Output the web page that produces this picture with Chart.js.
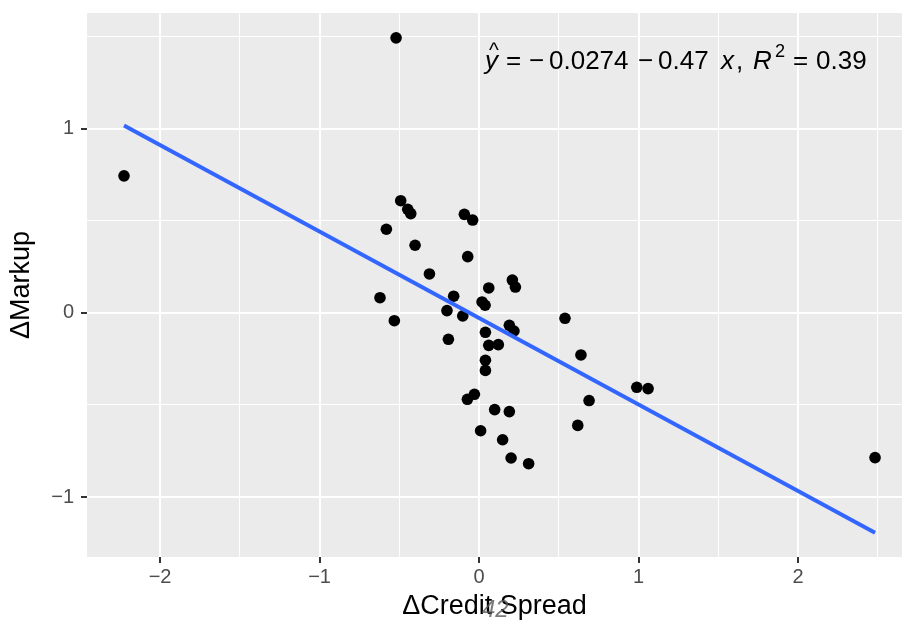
<!DOCTYPE html>
<html>
<head>
<meta charset="utf-8">
<script src="https://cdn.jsdelivr.net/npm/chart.js@4.4.1/dist/chart.umd.min.js"></script>
<style>
  html, body { margin: 0; padding: 0; background: #fff; }
</style>
</head>
<body>
<canvas id="chart" width="902" height="623"></canvas>
<script>
// data
const creditSpread = [-2.226, -0.52, -0.491, -0.447, -0.428, -0.581, -0.092, -0.040, -0.401, -0.071,
  -0.311, -0.621, -0.159, 0.061, 0.209, 0.228, 0.019, 0.038, -0.201, -0.102,
  -0.531, 0.190, 0.219, 0.040, -0.192, 0.061, 0.121, 0.040, 0.040, -0.029,
  -0.073, 0.098, 0.190, 0.010, 0.148, 0.201, 0.311, 0.539, 0.639, 0.989,
  1.060, 0.690, 0.619, 2.483];
const markup = [0.745, 1.495, 0.610, 0.563, 0.540, 0.455, 0.536, 0.505, 0.368, 0.306,
  0.212, 0.083, 0.091, 0.136, 0.179, 0.141, 0.060, 0.042, 0.013, -0.016,
  -0.042, -0.067, -0.098, -0.105, -0.143, -0.176, -0.172, -0.257, -0.312, -0.442,
  -0.469, -0.525, -0.536, -0.640, -0.689, -0.788, -0.819, -0.029, -0.228, -0.404,
  -0.411, -0.476, -0.611, -0.786];

// fit from the label
const intercept = -0.0274;
const slope = -0.47;
const rSquared = 0.39;

const xGridValues = [-2, -1.5, -1, -0.5, 0, 0.5, 1, 1.5, 2, 2.5];
const yGridValues = [-1, -0.5, 0, 0.5, 1, 1.5];

const FONT = "'Liberation Sans', Arial, Helvetica, sans-serif";
const fmt = v => (v < 0 ? '\u2212' + Math.abs(v) : String(v));
const isMajor = v => Number.isInteger(v);

const points = creditSpread.map((x, i) => ({ x: x, y: markup[i] }));
const xLo = Math.min(...creditSpread), xHi = Math.max(...creditSpread);
const fitLine = [xLo, xHi].map(x => ({ x: x, y: intercept + slope * x }));

// gray panel behind the grid
const panelBg = {
  id: 'panelBg',
  beforeDraw(chart) {
    const { ctx, chartArea: a } = chart;
    ctx.save();
    ctx.fillStyle = '#EBEBEB';
    ctx.fillRect(a.left, a.top, a.right - a.left, a.bottom - a.top);
    ctx.restore();
  }
};

// regression equation, plotmath-like spacing
const eqLabel = {
  id: 'eqLabel',
  afterDraw(chart) {
    const ctx = chart.ctx;
    const size = 26;
    const x0 = 484, base = 69;
    const parts = [
      { t: 'y', it: true, at: 1 },
      { t: '=', at: 22 },
      { t: '\u2212', at: 45 },
      { t: '0.0274', at: 65 },
      { t: '\u2212', at: 154 },
      { t: '0.47', at: 174 },
      { t: 'x', it: true, at: 237 },
      { t: ',', at: 252 },
      { t: 'R', it: true, at: 269 },
      { t: '2', sup: true, at: 291 },
      { t: '=', at: 309 },
      { t: String(rSquared), at: 332 }
    ];
    ctx.save();
    ctx.fillStyle = '#000';
    ctx.textBaseline = 'alphabetic';
    ctx.textAlign = 'left';
    parts.forEach(p => {
      const s = p.sup ? size * 0.7 : size;
      ctx.font = (p.it ? 'italic ' : '') + s + 'px ' + FONT;
      ctx.fillText(p.t, x0 + p.at, p.sup ? base - size * 0.45 : base);
    });
    // hat over y
    ctx.font = size * 0.8 + 'px ' + FONT;
    ctx.fillText('^', x0 + 5, base - 12);
    // stray label overlapping the x title
    ctx.font = 'italic 24px ' + FONT;
    ctx.fillStyle = 'rgba(90,90,90,0.8)';
    ctx.fillText('42', 482, 617);
    ctx.restore();
  }
};

function axisOpts(gridValues, titleText, fit, pad) {
  return {
    type: 'linear',
    afterBuildTicks: scale => { scale.ticks = gridValues.map(v => ({ value: v })); },
    afterFit: fit,
    border: { display: false },
    grid: {
      color: '#FFFFFF',
      lineWidth: c => (isMajor(c.tick.value) ? 2 : 1),
      drawTicks: true,
      tickLength: 6,
      tickWidth: 2,
      tickColor: c => (isMajor(c.tick.value) ? '#333333' : 'rgba(0,0,0,0)')
    },
    ticks: {
      autoSkip: false,
      maxRotation: 0,
      padding: pad,
      color: '#4D4D4D',
      font: { family: FONT, size: 20 },
      callback: v => (isMajor(v) ? fmt(v) : '')
    },
    title: {
      display: true,
      text: titleText,
      color: '#000',
      font: { family: FONT, size: 27 }
    }
  };
}

const xAxis = axisOpts(xGridValues, '\u0394Credit Spread', s => {
  s.height = 66;
  s.paddingLeft = 0;
  s.paddingRight = 0;
}, 2);
xAxis.min = -2.458;
xAxis.max = 2.652;
xAxis.title.padding = { top: 0, bottom: 0 };

const yAxis = axisOpts(yGridValues, '\u0394Markup', s => {
  s.width = 87;
  s.paddingTop = 0;
  s.paddingBottom = 0;
}, 7);
yAxis.min = -1.326;
yAxis.max = 1.630;
yAxis.title.padding = { top: 5, bottom: 0 };

new Chart(document.getElementById('chart'), {
  type: 'scatter',
  data: {
    datasets: [
      {
        type: 'line',
        data: fitLine,
        borderColor: '#3366FF',
        borderWidth: 4,
        pointRadius: 0,
        fill: false,
        order: 0
      },
      {
        data: points,
        backgroundColor: '#000',
        borderWidth: 0,
        pointRadius: 5.8,
        order: 1
      }
    ]
  },
  options: {
    responsive: false,
    devicePixelRatio: 1,
    animation: false,
    layout: { autoPadding: false, padding: { top: 13, right: 0, left: 0, bottom: 0 } },
    plugins: { legend: { display: false }, tooltip: { enabled: false } },
    scales: { x: xAxis, y: yAxis }
  },
  plugins: [panelBg, eqLabel]
});
</script>
</body>
</html>
